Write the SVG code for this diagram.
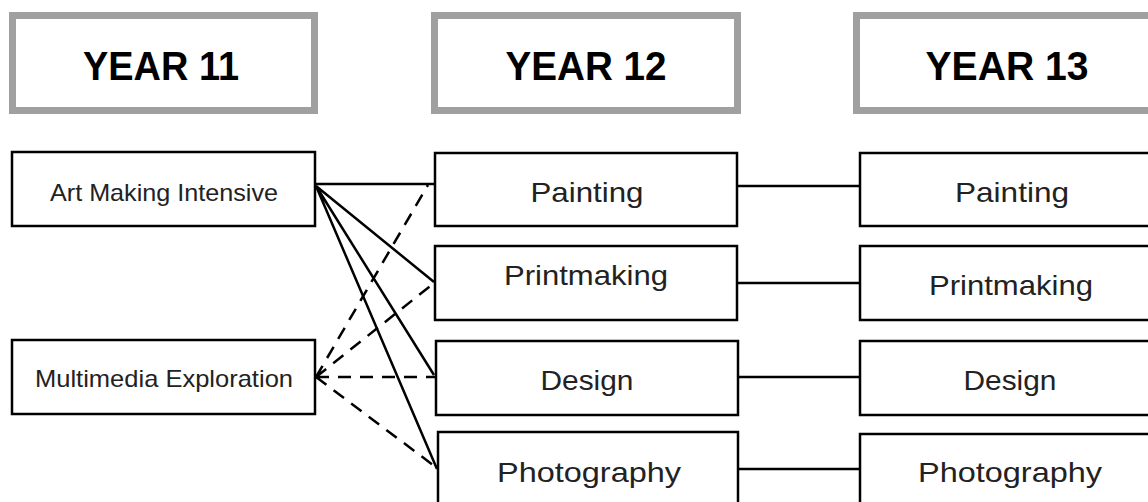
<svg xmlns="http://www.w3.org/2000/svg" width="1148" height="502" viewBox="0 0 1148 502">
<style>
.hdr{fill:#fff;stroke:#a0a0a0;stroke-width:7}
.box{fill:#fff;stroke:#000;stroke-width:2.5}
.ht{font-family:"Liberation Sans",Arial,sans-serif;font-weight:bold;font-size:40px;fill:#000;text-anchor:middle}
.t{font-family:"Liberation Sans",Arial,sans-serif;font-size:28px;fill:#222;text-anchor:middle}
.ts{font-family:"Liberation Sans",Arial,sans-serif;font-size:24px;fill:#222;text-anchor:middle}
.c{fill:none;stroke:#000;stroke-width:2.5}
.d{fill:none;stroke:#000;stroke-width:2.5;stroke-dasharray:13 9}
</style>
<rect width="1148" height="502" fill="#fff"/>
<g id="connectors">
<path class="c" d="M316 184H435M316 186L434 282M316 186L434 375M316 186L437 469"/>
<path class="d" d="M316 377L428 185M316 377L434 283M316 377H435M316 377L437 468"/>
<path class="c" d="M737 186H860M737 283H860M738 377H860M738 469H860"/>
</g>
<g id="hdr11"><rect class="hdr" x="12.5" y="15.5" width="302" height="95"/><text class="ht" x="161" y="80" textLength="156" lengthAdjust="spacingAndGlyphs">YEAR 11</text></g>
<g id="hdr12"><rect class="hdr" x="434.5" y="15.5" width="303" height="95"/><text class="ht" x="586" y="80" textLength="161" lengthAdjust="spacingAndGlyphs">YEAR 12</text></g>
<g id="hdr13"><rect class="hdr" x="856.5" y="15.5" width="310" height="95"/><text class="ht" x="1007" y="80" textLength="163" lengthAdjust="spacingAndGlyphs">YEAR 13</text></g>
<g id="art"><rect class="box" x="12" y="152" width="303" height="74"/><text class="ts" x="164" y="201" textLength="228" lengthAdjust="spacingAndGlyphs">Art Making Intensive</text></g>
<g id="multi"><rect class="box" x="12" y="340" width="303" height="74"/><text class="ts" x="164" y="387" textLength="258" lengthAdjust="spacingAndGlyphs">Multimedia Exploration</text></g>
<g id="p12"><rect class="box" x="435" y="153" width="302" height="73"/><text class="t" x="587" y="202" textLength="113" lengthAdjust="spacingAndGlyphs">Painting</text></g>
<g id="pm12"><rect class="box" x="435" y="246" width="302" height="74"/><text class="t" x="586" y="285" textLength="164" lengthAdjust="spacingAndGlyphs">Printmaking</text></g>
<g id="d12"><rect class="box" x="436" y="341" width="302" height="74"/><text class="t" x="587" y="390" textLength="93" lengthAdjust="spacingAndGlyphs">Design</text></g>
<g id="ph12"><rect class="box" x="438" y="432" width="300" height="100"/><text class="t" x="589" y="482" textLength="184" lengthAdjust="spacingAndGlyphs">Photography</text></g>
<g id="p13"><rect class="box" x="860" y="153" width="310" height="73"/><text class="t" x="1012" y="202" textLength="114" lengthAdjust="spacingAndGlyphs">Painting</text></g>
<g id="pm13"><rect class="box" x="860" y="246" width="310" height="74"/><text class="t" x="1011" y="295" textLength="164" lengthAdjust="spacingAndGlyphs">Printmaking</text></g>
<g id="d13"><rect class="box" x="860" y="341" width="310" height="74"/><text class="t" x="1010" y="390" textLength="93" lengthAdjust="spacingAndGlyphs">Design</text></g>
<g id="ph13"><rect class="box" x="860" y="434" width="310" height="100"/><text class="t" x="1010" y="482" textLength="184" lengthAdjust="spacingAndGlyphs">Photography</text></g>
</svg>
